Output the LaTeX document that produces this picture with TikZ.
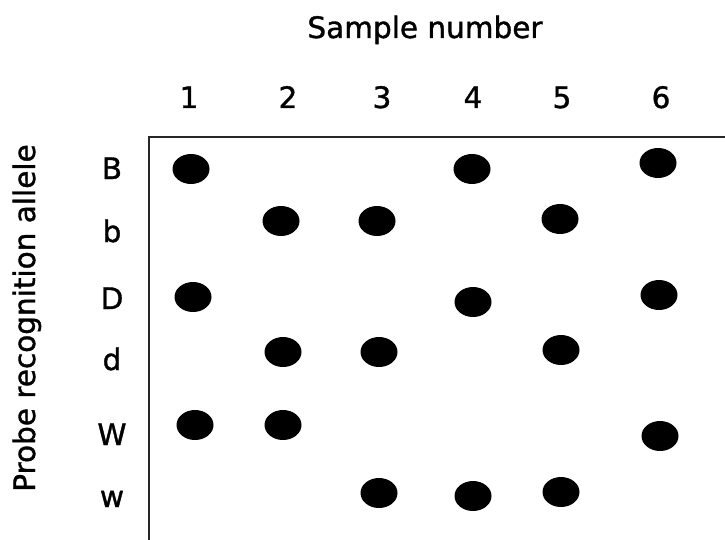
\documentclass[tikz,border=0pt]{standalone}
\usepackage{fontspec}
\setmainfont{DejaVu Sans}[FakeBold=1.2]
\usepackage{tikz}
\usetikzlibrary{shapes.geometric, positioning}

\begin{document}
\begin{tikzpicture}[
  x=1pt, y=-1pt,
  every node/.style={font=\fontsize{29.5}{34}\selectfont},
  lab/.style={anchor=base, inner sep=0pt},
  spot/.style={ellipse, fill=black, minimum width=37pt, minimum height=30pt, inner sep=0pt}
]
  \useasboundingbox (0,0) rectangle (725,540);

  % Axis titles
  \node[lab] (title) at (425,38) {Sample number};
  \node[lab, rotate=90] (ytitle) at (35,318) {Probe recognition allele};

  % Frame
  \draw[line width=2pt, black!85] (149,540) -- (149,137) -- (725,137);

  % Sample numbers
  \node[lab] (n1) at (189,108) {1};
  \node[lab] (n2) at (288,108) {2};
  \node[lab] (n3) at (382,108) {3};
  \node[lab] (n4) at (473,108) {4};
  \node[lab] (n5) at (562,108) {5};
  \node[lab] (n6) at (661,108) {6};

  % Alleles
  \node[lab] (aB) at (112,179) {B};
  \node[lab] (ab) at (112,242) {b};
  \node[lab] (aD) at (112,309) {D};
  \node[lab] (ad) at (112,370) {d};
  \node[lab] (aW) at (112,445) {W};
  \node[lab] (aw) at (112,507) {w};

  % Hybridisation spots
  \node[spot] (B1) at (191,169) {};
  \node[spot] (B4) at (472,169) {};
  \node[spot] (B6) at (658,163) {};

  \node[spot] (b2) at (281,221) {};
  \node[spot] (b3) at (377,221) {};
  \node[spot] (b5) at (560,219) {};

  \node[spot] (D1) at (193,297) {};
  \node[spot] (D4) at (473,302) {};
  \node[spot] (D6) at (659,295) {};

  \node[spot] (d2) at (283,352) {};
  \node[spot] (d3) at (379,352) {};
  \node[spot] (d5) at (561,350) {};

  \node[spot] (W1) at (195,425) {};
  \node[spot] (W2) at (283,425) {};
  \node[spot] (W6) at (660,436) {};

  \node[spot] (w3) at (379,493) {};
  \node[spot] (w4) at (473,496) {};
  \node[spot] (w5) at (561,492) {};
\end{tikzpicture}
\end{document}
